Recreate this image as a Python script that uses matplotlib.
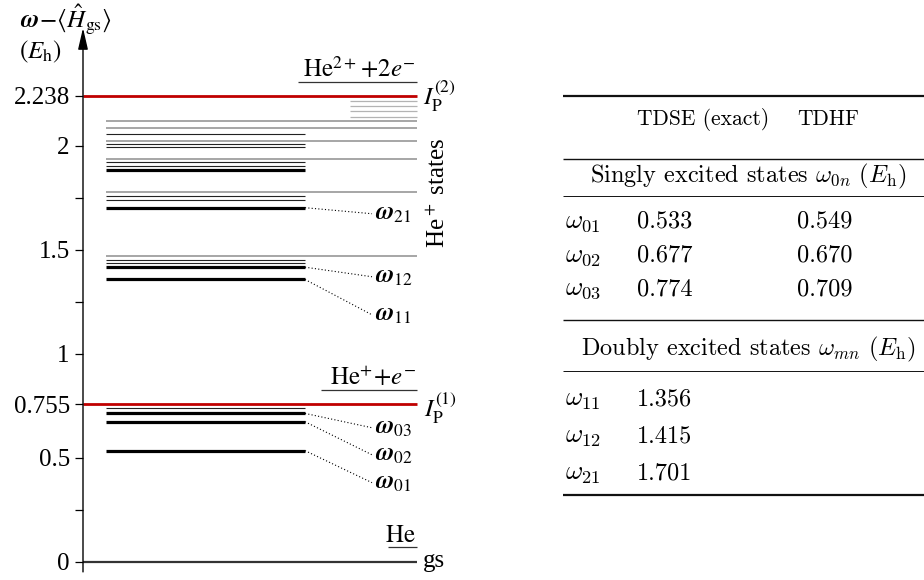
import matplotlib.pyplot as plt

plt.rcParams['font.family'] = ['Liberation Serif', 'DejaVu Serif']
plt.rcParams['mathtext.fontset'] = 'stix'

# energy levels in E_h
gs_level = 0.0
ip1 = 0.755
ip2 = 2.238
strong_levels = [0.533, 0.672, 0.712, 1.356, 1.415, 1.701, 1.882]
weak_levels = [0.737, 1.437, 1.450, 1.738, 1.757, 1.903, 1.919, 1.991, 2.007, 2.055]
hep_levels = [1.467, 1.775, 1.935, 2.023, 2.083, 2.118]
rydberg_levels = [2.138, 2.164, 2.188, 2.215]

omega_names = ['01', '02', '03', '11', '12', '21']
omega_levels = [0.533, 0.672, 0.712, 1.356, 1.415, 1.701]
omega_label_y = [0.349, 0.483, 0.613, 1.156, 1.339, 1.642]

ytick_vals = [0, 0.25, 0.5, 0.755, 1, 1.25, 1.5, 1.75, 2, 2.238]
ytick_text = ['0', '', '0.5', '0.755', '1', '', '1.5', '', '2', '2.238']

# table values
singly_names = ['01', '02', '03']
singly_tdse = ['0.533', '0.677', '0.774']
singly_tdhf = ['0.549', '0.670', '0.709']
doubly_names = ['11', '12', '21']
doubly_tdse = ['1.356', '1.415', '1.701']

W, H = 924, 580
fig = plt.figure(figsize=(W / 100, H / 100), dpi=100)

# full-figure overlay in pixel units for the table and axis title
tab = fig.add_axes([0, 0, 1, 1], frameon=False)
tab.set_xlim(0, W)
tab.set_ylim(H, 0)
tab.axis('off')

# level diagram, x in pixel units
x0, x1 = 83, 460
ybot, ytop = 575, 20
scale, zero = 208.0, 561.5
ax = fig.add_axes([x0 / W, (H - ybot) / H, (x1 - x0) / W, (ybot - ytop) / H])
ax.patch.set_visible(False)
ax.set_xlim(x0, x1)
ax.set_ylim((zero - ybot) / scale, (zero - ytop) / scale)
for s in ax.spines.values():
    s.set_visible(False)
ax.set_xticks([])
ax.set_yticks(ytick_vals)
ax.set_yticklabels(ytick_text, fontsize=18)
ax.tick_params(axis='y', direction='out', length=6, width=0.9, pad=3.5)

ax.annotate('', xy=(x0, 2.565), xytext=(x0, -0.05), annotation_clip=False,
            arrowprops=dict(arrowstyle='-|>,head_length=1.3,head_width=0.3',
                            lw=1.0, color='k', shrinkA=0, shrinkB=0))

xs, xm, xe, xr = 106, 305, 417, 350
ax.hlines(hep_levels, xs, xe, colors='#a6a6a6', lw=1.4)
ax.hlines(rydberg_levels, xr, xe, colors='#b3b3b3', lw=0.9)
ax.hlines(weak_levels, xs, xm, colors='#222222', lw=0.8)
ax.hlines(strong_levels, xs, xm, colors='black', lw=2.3)
ax.hlines([ip1, ip2], x0, xe, colors='#c00000', lw=2.0, clip_on=False)
ax.hlines([gs_level], x0, xe, colors='#333333', lw=1.6, clip_on=False)

# leader lines and omega labels
for name, lev, ly in zip(omega_names, omega_levels, omega_label_y):
    ax.plot([xm, 372], [lev, ly + 0.03], ls=(0, (1, 2)), lw=0.8, color='k')
    ax.text(375, ly, r'$\boldsymbol{\omega}_{%s}$' % name, fontsize=18,
            ha='left', va='baseline')

# channel labels with underlines
uoff, toff = 0.068, 0.026
channels = [(ip2, r'$\mathrm{He}^{2+}\!+\!2e^{-}$', 298),
            (ip1, r'$\mathrm{He}^{+}\!+\!e^{-}$', 321),
            (gs_level, r'$\mathrm{He}$', 388)]
for lev, txt, ux in channels:
    ax.hlines(lev + uoff, ux, xe, colors='#333333', lw=0.9)
    ax.text(416, lev + uoff + toff, txt, fontsize=18, ha='right', va='baseline')

ax.text(423, ip2 - 0.045, r'$I_\mathrm{P}^{(2)}$', fontsize=18, ha='left', va='baseline')
ax.text(424, ip1 - 0.06, r'$I_\mathrm{P}^{(1)}$', fontsize=18, ha='left', va='baseline')
ax.text(423, gs_level - 0.025, 'gs', fontsize=18, ha='left', va='baseline')
ax.text(438, 1.771, r'He$^+$ states', fontsize=18, rotation=90, ha='center', va='center')

# axis title
tab.text(66, 20, r'$\boldsymbol{\omega}\!-\!\langle\hat{H}_\mathrm{gs}\rangle$', fontsize=18,
         ha='center', va='center')
tab.text(40, 52, r'$(E_\mathrm{h})$', fontsize=18, ha='center', va='center')

# table
tf = dict(family='cmr10', math_fontfamily='cm')
rl, rr = 563, 924
for y, lw in [(96, 1.6), (159, 1.0), (196, 0.7), (320, 1.0), (371, 0.7), (495, 1.6)]:
    tab.hlines(y, rl, rr, colors='#111111', lw=lw)
tab.text(637, 125, 'TDSE (exact)', ha='left', va='baseline', fontsize=15.5, **tf)
tab.text(797, 125, 'TDHF', ha='left', va='baseline', fontsize=15.5, **tf)
tab.text(748, 182, r'Singly excited states $\omega_{0n}$ ($E_\mathrm{h}$)',
         ha='center', va='baseline', fontsize=17.5, **tf)
tab.text(748, 355, r'Doubly excited states $\omega_{mn}$ ($E_\mathrm{h}$)',
         ha='center', va='baseline', fontsize=17.5, **tf)

singly_y = [228, 261.7, 295]
for y, n, a, b in zip(singly_y, singly_names, singly_tdse, singly_tdhf):
    tab.text(565, y, r'$\omega_{%s}$' % n, ha='left', va='baseline', fontsize=19, **tf)
    tab.text(637, y, a, ha='left', va='baseline', fontsize=17.5, **tf)
    tab.text(797, y, b, ha='left', va='baseline', fontsize=17.5, **tf)

doubly_y = [406, 442.7, 479.3]
for y, n, a in zip(doubly_y, doubly_names, doubly_tdse):
    tab.text(565, y, r'$\omega_{%s}$' % n, ha='left', va='baseline', fontsize=19, **tf)
    tab.text(637, y, a, ha='left', va='baseline', fontsize=17.5, **tf)

fig.savefig('out.png', dpi=100)
